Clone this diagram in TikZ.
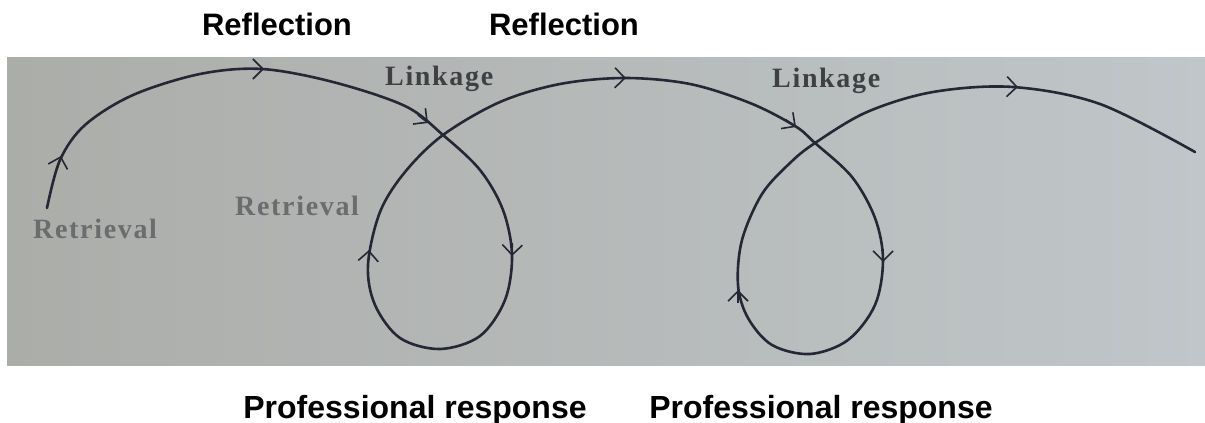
\documentclass[tikz,border=0pt]{standalone}
\usepackage{fontspec}
\setmainfont{Liberation Sans}
\newfontfamily\photofont[LetterSpace=6]{Liberation Serif}
\usetikzlibrary{arrows.meta}
\definecolor{photoL}{HTML}{ABADA9}
\definecolor{photoR}{HTML}{C0C6C9}
\definecolor{ink}{HTML}{262734}
\definecolor{printgray}{HTML}{6A6C6D}
\definecolor{linkgray}{HTML}{3E4044}

\begin{document}
\begin{tikzpicture}[x=1pt,y=-1pt,
    loopline/.style={draw=ink,line width=2.6pt,line cap=round,line join=round},
    tipmark/.style={draw=ink,line width=1.4pt,-{Straight Barb[length=10pt,width=20pt,line width=1.6pt]}},
    printed/.style={text=printgray,font=\photofont\bfseries\fontsize{28}{30}\selectfont,inner sep=0pt},
    caption/.style={font=\bfseries\fontsize{31}{34}\selectfont,inner sep=0pt}]
  \useasboundingbox (0,0) rectangle (1205,423);
  % photo background
  \shade[left color=photoL,right color=photoR] (7,57) rectangle (1205,365);

  % the looping path
  \draw[loopline] plot[smooth,tension=0.55] coordinates {
    (47,208) (60,160) (85,125) (133,95) (200,74) (262,69) (333,82) (405,106)
    (443,135) (480,170) (503,210) (512,255) (505,300) (480,336) (440,349)
    (400,338) (375,305) (368,265) (380,212) (405,172) (443,135)
    (500,102) (560,84) (625,78) (690,84) (750,103) (795,126) (815,143)
    (852,177) (875,218) (883,260) (875,305) (848,340) (810,354)
    (772,345) (748,318) (738,285) (742,240) (762,194) (790,163) (815,143)
    (867,112) (933,92) (1013,87) (1100,104) (1195,152)};
  \foreach \px/\py/\ang in {61/156/-74, 264/69/0, 428/123/38, 512/256/92,
      369/250/-86, 626/78/1, 796/127/36, 883/262/90, 738/290/-90, 1018/87/2}
    \draw[tipmark] (\px,\py) ++({\ang+180}:13) -- (\px,\py);

  \node[printed,anchor=base west] (retr1) at (33,238) {Retrieval};
  \node[printed,anchor=base west] (retr2) at (235,215) {Retrieval};
  \node[printed,text=linkgray,anchor=base west] (link1) at (385,85) {Linkage};
  \node[printed,text=linkgray,anchor=base west] (link2) at (772,87) {Linkage};

  \node[caption,anchor=base] (refl1) at (277,35) {Reflection};
  \node[caption,anchor=base] (refl2) at (564,35) {Reflection};
  \node[caption,anchor=base,font=\bfseries\fontsize{32}{34}\selectfont] (prof1) at (415,418) {Professional response};
  \node[caption,anchor=base,font=\bfseries\fontsize{32}{34}\selectfont] (prof2) at (821,418) {Professional response};
\end{tikzpicture}
\end{document}
